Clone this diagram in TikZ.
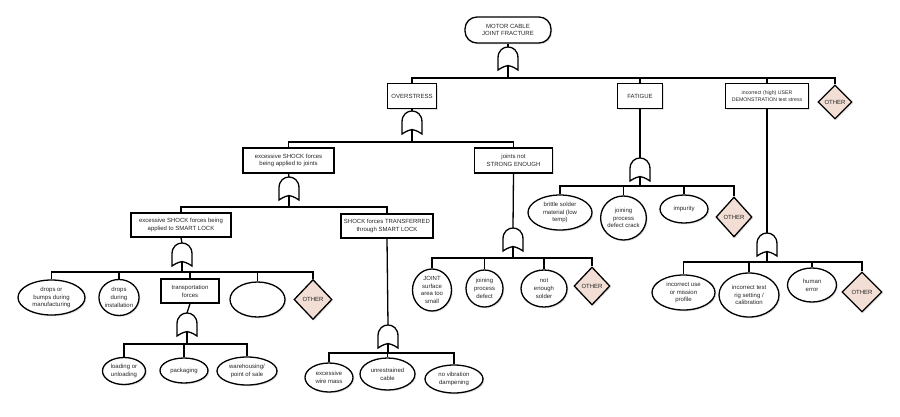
\documentclass[tikz,border=0pt]{standalone}
\usepackage{fontspec}
\setmainfont{Liberation Sans}
\usetikzlibrary{shapes.geometric,shadows}
\definecolor{otherpink}{HTML}{F2DED4}
\begin{document}
\begin{tikzpicture}[x=1pt,y=-1pt,
  every node/.style={font=\fontsize{6}{7.8}\selectfont, align=center, inner sep=0pt, text=black!85},
  base/.style={draw, line width=1.3pt, fill=white, drop shadow={shadow xshift=1.3pt, shadow yshift=-1.3pt, opacity=0.22}},
  ebox/.style={base, rectangle},
  evt/.style={base, ellipse},
  oth/.style={base, diamond, fill=otherpink},
  topev/.style={base, rectangle, rounded corners=12pt},
  conn/.style={line width=1.3pt},
  gate/.pic={
    \draw[line width=1.3pt, fill=white] (-10,12) -- (-10,0)
      .. controls (-10,-14.7) and (10,-14.7) .. (10,0) -- (10,12)
      .. controls (5,8.5) and (2,8) .. (0,7.5)
      .. controls (-2,8) and (-5,8.5) .. (-10,12) -- cycle;
    \coordinate (-top) at (0,-11);
    \coordinate (-bot) at (0,7.5);
  }
]
\useasboundingbox (0,0) rectangle (900,416);

% ---------- nodes ----------
\node[topev, minimum width=86, minimum height=26] (top) at (508,30) {MOTOR CABLE\\JOINT FRACTURE};

\node[ebox, minimum width=49, minimum height=25] (ov) at (412,96) {OVERSTRESS};
\node[ebox, minimum width=45, minimum height=25] (fat) at (640,96) {FATIGUE};
\node[ebox, minimum width=83, minimum height=25, font=\fontsize{5.2}{7.4}\selectfont] (usr) at (767,96) {incorrect (high) USER\\DEMONSTRATION test stress};
\node[oth, minimum width=34, minimum height=34] (oth1) at (835,102) {OTHER};

\node[ebox, minimum width=91, minimum height=25] (esj) at (288.5,160.5) {excessive SHOCK forces\\being applied to joints};
\node[ebox, minimum width=78, minimum height=25] (jns) at (513.5,160.5) {joints not\\STRONG ENOUGH};

\node[ebox, minimum width=100, minimum height=24] (esl) at (181,225) {excessive SHOCK forces being\\applied to SMART LOCK};
\node[ebox, minimum width=92, minimum height=24] (sft) at (387,226) {SHOCK forces TRANSFERRED\\through SMART LOCK};

\node[evt, minimum width=67, minimum height=35] (e1) at (51.5,297.5) {drops or\\bumps during\\manufacturing};
\node[evt, minimum width=38, minimum height=36] (e2) at (119,297.5) {drops\\during\\installation};
\node[ebox, minimum width=58, minimum height=24] (tf) at (190,291) {transportation\\forces};
\node[evt, minimum width=55, minimum height=35] (e3) at (257.5,299.5) {};
\node[oth, minimum width=38, minimum height=40] (oth2) at (313,299.5) {OTHER};

\node[evt, minimum width=43, minimum height=27] (l1) at (124,371) {loading or\\unloading};
\node[evt, minimum width=48, minimum height=25] (l2) at (184,370.5) {packaging};
\node[evt, minimum width=60, minimum height=28] (l3) at (247,371) {warehousing/\\point of sale};

\node[evt, minimum width=48, minimum height=29] (x1) at (329,377.5) {excessive\\wire mass};
\node[evt, minimum width=55, minimum height=32] (x2) at (387.5,374) {unrestrained\\cable};
\node[evt, minimum width=58, minimum height=28] (x3) at (454,379) {no vibration\\dampening};

\node[evt, minimum width=39, minimum height=42] (j1) at (432,290) {JOINT\\surface\\area too\\small};
\node[evt, minimum width=37, minimum height=37] (j2) at (484.5,288.5) {joining\\process\\defect};
\node[evt, minimum width=46, minimum height=37] (j3) at (544,288.5) {not\\enough\\solder};
\node[oth, minimum width=36, minimum height=38] (oth3) at (592,286) {OTHER};

\node[evt, minimum width=64, minimum height=35] (f1) at (560,212.5) {brittle solder\\material (low\\temp)};
\node[evt, minimum width=44, minimum height=44] (f2) at (623.5,218) {joining\\process\\defect crack};
\node[evt, minimum width=48, minimum height=28] (f3) at (684,209) {impurity};
\node[oth, minimum width=36, minimum height=40] (oth4) at (734,217) {OTHER};

\node[evt, minimum width=63, minimum height=35] (u1) at (683.5,292.5) {incorrect use\\or mission\\profile};
\node[evt, minimum width=60, minimum height=44] (u2) at (749,295) {incorrect test\\rig setting /\\calibration};
\node[evt, minimum width=49, minimum height=34] (u3) at (812,285) {human\\error};
\node[oth, minimum width=40, minimum height=40] (oth5) at (862,292) {OTHER};

% ---------- bar junctions ----------
\coordinate (b1) at (508,78);
\coordinate (b2) at (412,142);
\coordinate (b3) at (289,207);
\coordinate (b4) at (182,272);
\coordinate (b5) at (187,344);
\coordinate (b6) at (388,353);
\coordinate (b7) at (513,258);
\coordinate (b8) at (640,186);
\coordinate (b9) at (767,262);

% ---------- connectors ----------
\draw[conn] (top.south) -- (508,47);
\draw[conn] (ov.south) -- (412,111);
\draw[conn] (esj.south) -- (289,177);
\draw[conn] (esl.south) -- (182,243);
\draw[conn] (tf.south) -- (187,313);
\draw[conn] (sft.south) -- (388,325);
\draw[conn] (jns.south) -- (513,228);
\draw[conn] (fat.south) -- (640,158);
\draw[conn] (usr.south) -- (767,233);

\foreach \c in {ov,fat,usr,oth1} \draw[conn] (b1) -| (\c.north);
\foreach \c in {esj,jns} \draw[conn] (b2) -| (\c.north);
\foreach \c in {esl,sft} \draw[conn] (b3) -| (\c.north);
\foreach \c in {e1,e2,tf,e3,oth2} \draw[conn] (b4) -| (\c.north);
\foreach \c in {l1,l2,l3} \draw[conn] (b5) -| (\c.north);
\foreach \c in {x1,x2,x3} \draw[conn] (b6) -| (\c.north);
\foreach \c in {j1,j2,j3,oth3} \draw[conn] (b7) -| (\c.north);
\foreach \c in {f1,f2,f3,oth4} \draw[conn] (b8) -| (\c.north);
\foreach \c in {u1,u2,u3,oth5} \draw[conn] (b9) -| (\c.north);

% ---------- gates ----------
\pic (g1) at (508,58) {gate};
\pic (g2) at (412,122) {gate};
\pic (g3) at (289,188) {gate};
\pic (g4) at (182,254) {gate};
\pic (g5) at (187,324) {gate};
\pic (g6) at (388,336) {gate};
\pic (g7) at (513,239) {gate};
\pic (g8) at (640,169) {gate};
\pic (g9) at (767,244) {gate};

\foreach \g/\b in {g1/b1,g2/b2,g3/b3,g4/b4,g5/b5,g6/b6,g7/b7,g8/b8,g9/b9}
  \draw[conn] (\g-bot) -- (\b);
\end{tikzpicture}
\end{document}
